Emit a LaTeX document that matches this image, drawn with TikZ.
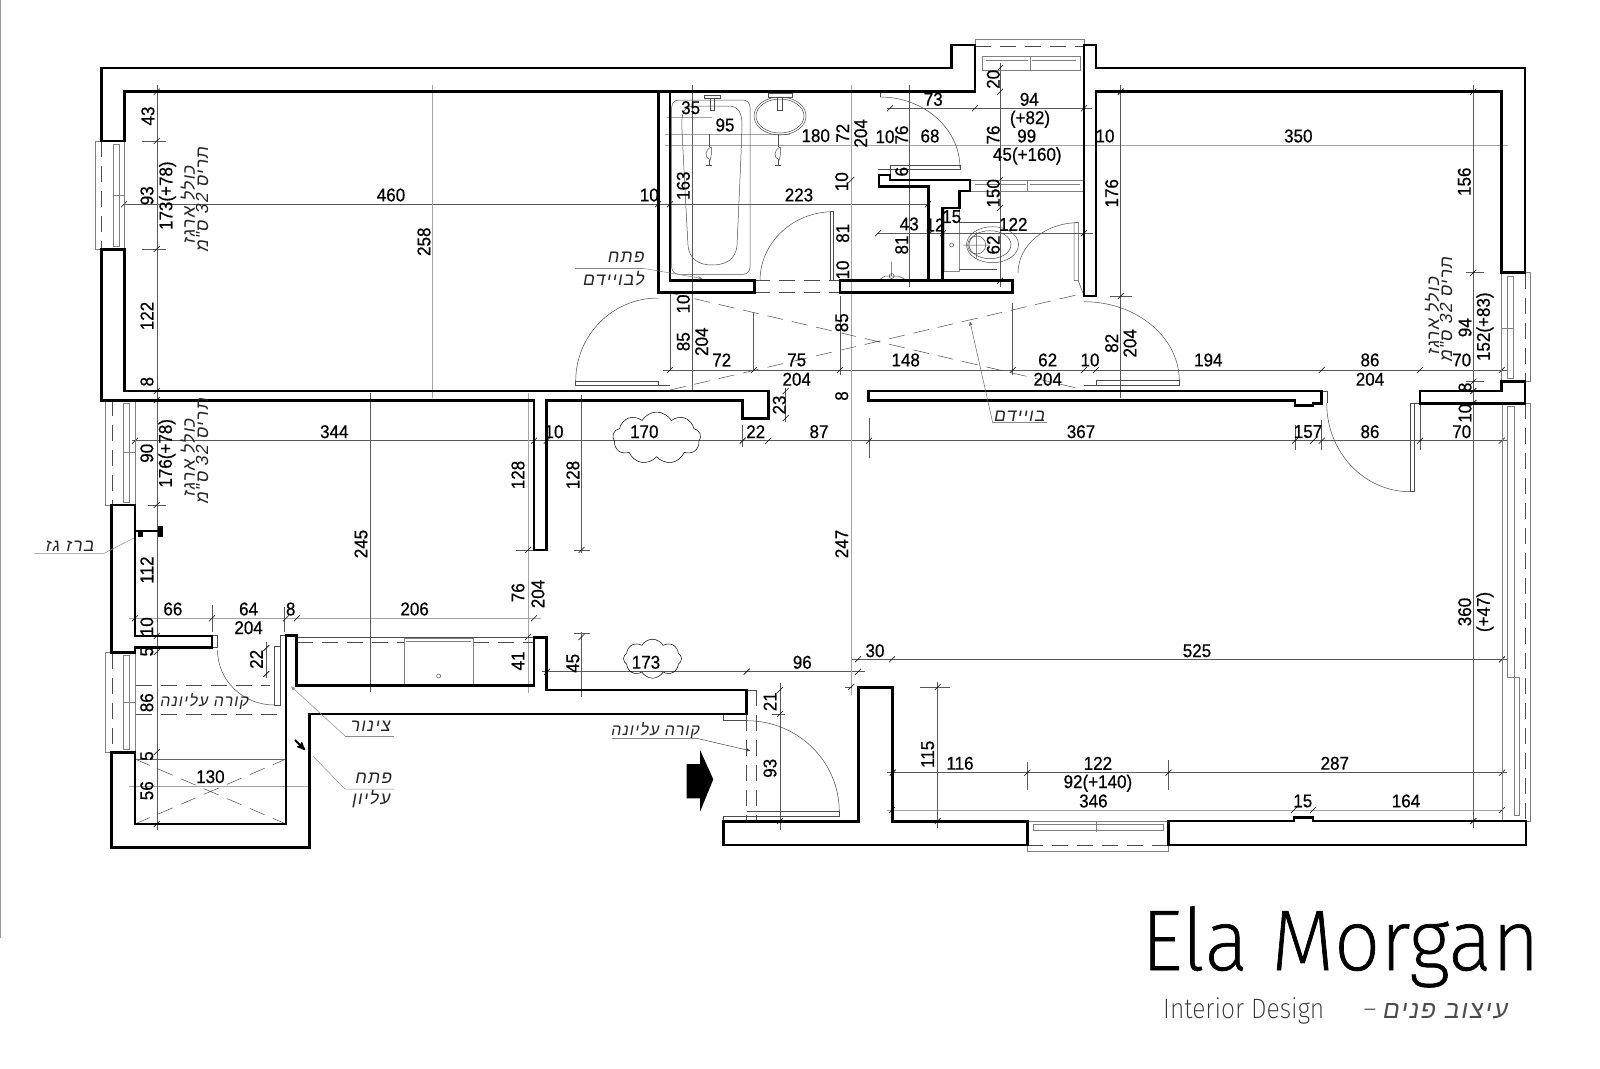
\documentclass[tikz,border=0pt]{standalone}
\usepackage{fontspec}
\usetikzlibrary{arrows,shapes.symbols}
\TeXXeTstate=1
\setmainfont{Liberation Sans}
\newfontfamily\dimfont[FakeStretch=0.92,FakeBold=0.5]{Liberation Sans}
\newfontfamily\hebfont[Script=Hebrew,FakeSlant=0.18,LetterSpace=7]{Liberation Sans}
\newfontfamily\logofont[FakeStretch=0.95,FakeBold=0.8]{Fira Sans ExtraLight}
\newfontfamily\tagfont[FakeStretch=0.88]{Fira Sans ExtraLight}
\newcommand{\heb}[1]{{\hebfont\beginR #1\endR}}
\newcommand{\doorarc}[4]{\draw[fine] (#1,#2) .. controls (#1,{#2+0.552*(#4-#2)}) and ({#3-0.552*(#3-#1)},#4) .. (#3,#4);}

\begin{document}
\begin{tikzpicture}[x=1pt,y=-1pt,>=stealth',
    wall/.style={draw=black,line width=2.9pt,line join=miter},
    fine/.style={draw=black!70,line width=.5pt},
    glass/.style={draw=black!50,line width=.6pt},
    hidden/.style={draw=black!70,line width=.5pt,dash pattern=on 16pt off 9pt},
    dimdark/.style={draw=black!65,line width=.5pt},
    dimpale/.style={draw=black!35,line width=.9pt},
    leader/.style={draw=black!45,line width=.5pt},
    dimh/.style={font=\dimfont\fontsize{18.5}{20}\selectfont,inner sep=0pt},
    dimv/.style={dimh,rotate=90},
    noteh/.style={font=\fontsize{17.5}{19}\selectfont,inner sep=0pt,text=black!85},
    notev/.style={noteh,rotate=90}
    ]
    \useasboundingbox (0,0) rectangle (1600,1068);
    \draw[draw=black!40,line width=1pt] (.5,0) -- (.5,938);

    % Dimension lines
    \foreach \ya/\xa/\xb in {204.3/123/928,233.3/877/1093,108.3/887/1092,440.7/132/1508,370/663/1507,659.3/852/1507,772.7/887/1507,671.7/542/865}
      \draw[dimdark] (\xa,\ya) -- (\xb,\ya);
    \foreach \ya/\xa/\xb in {145/665/1508,117.3/667/712,134/665/790,618.3/129/541,810/887/1502,786/129/309}
      \draw[dimpale] (\xa,\ya) -- (\xb,\ya);
    \foreach \xa/\ya/\yb in {156.8/85/830,370.5/393/692,581.5/395/553,581.5/632/697,909.3/85/287,692.7/85/391,1000/63/287,1120.7/85/398,1473.3/85/828,785.7/388/422,780/683/830,937.7/682/828,266.4/642/678,753.3/312/370,1012.7/303/375,840/296/375,670/293/370}
      \draw[dimdark] (\xa,\ya) -- (\xa,\yb);
    \foreach \xa/\ya/\yb in {432.9/85/398,528/393/693,851.3/85/695}
      \draw[dimpale] (\xa,\ya) -- (\xa,\yb);
    % Extension stubs
    \foreach \ya/\xa/\xb in {141/142/166,249/142/166,505/148/166,550/516/540,550/574/590,633/574/590,296/1110/1132,272.7/1466/1484,381.7/1466/1484,687.3/920/950,687.3/845/852,714/772/785}
      \draw[dimdark] (\xa,\ya) -- (\xb,\ya);
    \foreach \xa/\ya/\yb in {1295/425/450,1321.7/420/450,869/418/458,1420/405/450,742.7/425/447,1168.5/760/790,1027.3/762/790,212/605/632,284/607/632}
      \draw[dimdark] (\xa,\ya) -- (\xa,\yb);
    % Ticks
    \foreach \x/\y in {124/204.3,658/204.3,670/204.3,928/204.3,878/233.3,930/233.3,943/233.3,1084/233.3,890/108.3,975/108.3,1084/108.3,
      135/440.7,534/440.7,546.8/440.7,742.7/440.7,768.3/440.7,869/440.7,1295/440.7,1313/440.7,1321.7/440.7,1420/440.7,1501.7/440.7,
      670/370,754/370,840/370,1012.7/370,1084/370,1096/370,1321.7/370,1420/370,1501.7/370,
      858/659.3,892/659.3,1502/659.3,892.7/772.7,1027.3/772.7,1168.5/772.7,1502/772.7,892/810,1294/810,1313/810,1502/810,
      135/618.3,212/618.3,286/618.3,297/618.3,534/618.3,547/671.7,746.7/671.7,858/671.7,
      156.8/91.7,156.8/141,156.8/249,156.8/391,156.8/400,156.8/505,156.8/636,156.8/652,156.8/752,156.8/824,
      1000/68,1000/91.7,1000/180,1000/208,1000/280.7,1473.3/91.7,1473.3/272.7,1473.3/381.7,1473.3/391,1473.3/403,1473.3/821,
      581.5/550,581.5/637,528/550,528/637,780/690,780/714,780/821,937.7/687,937.7/821,785.7/391,785.7/418,
      1120.7/91.7,1120.7/296,851.3/180,851.3/687,266.4/648,266.4/674}
      \draw[draw=black,line width=.6pt] (\x-3,\y+3) -- (\x+3,\y-3);

    % Windows
    \foreach \ya/\yb/\xo/\xd/\xg in {141/249.3/95.4/101.4/113,400/505/105.7/112/123.6,652.7/752.7/105.7/112/123.6}{
      \draw[glass] (\xo,\ya) rectangle (\xg+11.5,\yb);
      \draw[hidden] (\xd,\ya) -- (\xd,\yb);
      \draw[glass] (\xg,\ya+3) rectangle (\xg+6,\yb-3);
      \draw[glass] (\xg,{(\ya+\yb)/2}) -- (\xg+11.5,{(\ya+\yb)/2});
    }
    \draw[glass] (1501.7,272.7) rectangle (1530.7,381.7);
    \draw[hidden] (1525,272.7) -- (1525,381.7);
    \draw[glass] (1507,276) rectangle (1513,378);
    \draw[glass] (1501.7,328) -- (1513,328);
    \draw[glass] (1502.5,403.3) rectangle (1530.7,821);
    \draw[hidden] (1525.5,403.3) -- (1525.5,821);
    \draw[glass] (1507.6,406) rectangle (1514,677);
    \draw[glass] (1514,677) rectangle (1519.7,815);
    \draw[glass] (1507.6,677) -- (1519.7,677);
    \draw[glass] (1027.3,821) rectangle (1168.5,851);
    \draw[hidden] (1027.3,845) -- (1168.5,845);
    \draw[glass] (1033,824) rectangle (1163,830);
    \draw[glass] (1096,821) -- (1096,832);
    \draw[glass] (975,39.3) -- (1084,39.3);
    \draw[hidden] (975,46) -- (1084,46);
    \draw[glass] (975,39.3) -- (975,46) (1084,39.3) -- (1084,46);
    \draw[glass] (982,56) rectangle (1080,70);
    \draw[glass] (986,60) -- (1028,60) (1032,60) -- (1076,60) (1030,56) -- (1030,70);
    \draw[glass] (970,180) rectangle (1084,191.7);
    \draw[glass] (975,184) -- (1026,184) (1030,184) -- (1080,184) (1027,180) -- (1027,191.7);

    % Doors
    \doorarc{575.7}{381}{658}{298}
    \doorarc{760}{280.7}{833.3}{211.7}
    \doorarc{1018}{273}{1078.3}{222.7}
    \doorarc{960}{168}{880}{97}
    \doorarc{1179.3}{381}{1084}{301.7}
    \doorarc{1326.7}{403.3}{1410}{491.7}
    \doorarc{217.5}{650}{274.3}{705}
    \doorarc{839.3}{811.7}{746.7}{720.7}
    \draw[fine] (575.7,381) -- (658,381) -- (658,385.7) -- (670,385.7) (575.7,381) -- (575.7,385.7) -- (658,385.7);
    \draw[fine] (830,211.7) rectangle (833.3,280.7);
    \draw[fine] (1074,222.7) rectangle (1078.3,280.7) (1078.3,280.7) -- (1084,296);
    \draw[fine] (880,97) -- (880,92) (890,165) rectangle (960,169.5) (878,169.5) -- (890,169.5) -- (890,175);
    \draw[fine] (1096,380.7) rectangle (1179.3,385.7) (1084,385.7) -- (1096,385.7);
    \draw[fine] (1410,403.3) rectangle (1414.3,491.7) (1414.3,403.3) -- (1420,403.3) (1321.7,391) -- (1327,391) -- (1327,403.3);
    \draw[fine] (274.3,646.7) rectangle (280,705) (212,635) rectangle (217.5,647.3) (280,635) -- (286,635) (280,635) -- (280,646.7);
    \draw[fine] (723.3,816.7) -- (839.3,816.7) -- (839.3,811.7) -- (746.7,811.7) (723.3,816.7) -- (723.3,821.7);
    \draw[fine] (723.3,714) -- (723.3,720.7) -- (746.7,720.7);
    \draw[fine] (746.7,690) -- (756.7,690);
    \draw[hidden] (746.7,690) -- (746.7,821) (756.7,690) -- (756.7,821);
    \draw[hidden] (754.3,280.7) -- (840,280.7) (754.3,292.7) -- (840,292.7);

    % Attic and beam dashes
    \draw[hidden] (670,293) -- (1085,390) (670,390) -- (1085,293);
    \draw[hidden] (136,685.7) -- (270,685.7) (136,714) -- (286,714);
    \draw[hidden] (135,759) -- (286,824) (135,824) -- (286,759);
    \draw[draw=black!60,line width=.8pt] (135,759) -- (286,759);
    \draw[hidden] (296.8,642.7) -- (404,642.7) (473,642.7) -- (533,642.7);

    % Kitchen counter
    \draw[fine] (296.8,637.7) -- (534,637.7);
    \draw[glass] (404,638) rectangle (473,684) (406,641) -- (471,641);
    \draw[fine] (438.6,676) circle (2);

    % Bath, sink, toilet
    \draw[fine,rounded corners=7pt] (671.7,100) rectangle (750,274.3);
    \draw[fine] (695,106) .. controls (683,106) and (681,114) .. (682,130) .. controls (684,170) and (686,210) .. (688,245)
       .. controls (689,260) and (700,265) .. (712,265) .. controls (725,265) and (736,260) .. (737,245)
       .. controls (739,200) and (741,160) .. (742,125) .. controls (742,112) and (738,106) .. (728,106) -- cycle;
    \draw[fine] (704,95) -- (720,95) -- (720,98) -- (704,98) -- cycle (710,98) rectangle (714,110);
    \draw[fine] (780,116) ellipse (26 and 19) (780,116) ellipse (24 and 17);
    \draw[fine] (768,93) rectangle (792,97) (777,97) rectangle (782,110);
    \foreach \xa in {709.3,778.3}{
      \draw[fine] (\xa+2,147) .. controls (\xa-5,150) and (\xa-5,158) .. (\xa+1,160) .. controls (\xa+2,155) and (\xa+3,150) .. (\xa+2,147);
      \draw[fine] (\xa,134) -- (\xa,147) (\xa,160) -- (\xa,165) (\xa-3,165) -- (\xa+3,165);
    }
    \draw[fine] (992.5,244.7) ellipse (26 and 18) (990,244.7) ellipse (21 and 14);
    \draw[fine] (976.7,245) circle (9) (963,245) -- (990,245) (976.7,232) -- (976.7,258);
    \draw[fine] (944,208) rectangle (959.3,271.7) (951.7,245) circle (2);
    \draw[fine] (959.3,222) -- (1000,222) (959.3,269) -- (997,269);
    \draw[fine] (880,279.3) -- (905,279.3) -- (898,276) -- (885,276) -- cycle (891.7,261.7) -- (891.7,276) (891.7,276) circle (2.5);

    % Gas tap
    \draw[line width=2.6pt] (136,531) -- (161,531);
    \fill (157.5,526) rectangle (163,537);
    \fill (138,530) rectangle (143,537);

    % Walls
    \draw[wall] (101.4,68) -- (951.7,68) -- (951.7,45) -- (975,45) -- (975,91.7) -- (124.6,91.7) -- (124.6,141) -- (101.4,141) -- cycle;
    \draw[wall] (670,91.7) -- (670,280.7) -- (754.3,280.7) -- (754.3,292.7) -- (658.3,292.7) -- (658.3,91.7);
    \draw[wall] (840,280.7) -- (928.6,280.7) -- (928.6,186.7) -- (879,186.7) -- (879,175) -- (890,175) -- (890,180) -- (970,180) -- (970,191) -- (959.3,191) -- (959.3,208) -- (942.7,208) -- (942.7,280.7) -- (1012.7,280.7) -- (1012.7,292.7) -- (840,292.7) -- cycle;
    \draw[wall] (928.6,280.7) -- (942.7,280.7);
    \draw[wall] (1096,68) -- (1525,68) -- (1525,272.7) -- (1501.7,272.7) -- (1501.7,91.7) -- (1096,91.7) -- (1096,296) -- (1084,296) -- (1084,45) -- (1096,45) -- cycle;
    \draw[wall] (101.4,249.3) -- (124.6,249.3) -- (124.6,391) -- (768.3,391) -- (768.3,418.3) -- (742.7,418.3) -- (742.7,400.7) -- (546.8,400.7) -- (546.8,550) -- (534,550) -- (534,400.7) -- (101.4,400.7) -- cycle;
    \draw[wall] (868.3,391) -- (1321.7,391) -- (1321.7,403.5) -- (1313,403.5) -- (1313,405.5) -- (1295,405.5) -- (1295,400.7) -- (868.3,400.7) -- cycle;
    \draw[wall] (1420,391) -- (1501.7,391) -- (1501.7,381.7) -- (1525,381.7) -- (1525,403.3) -- (1420,403.3) -- cycle;
    \draw[wall] (111.8,505) -- (135,505) -- (135,636) -- (212,636) -- (212,647.3) -- (135,647.3) -- (135,652.7) -- (111.8,652.7) -- cycle;
    \draw[wall] (534,637.3) -- (546.8,637.3) -- (546.8,690) -- (746.7,690) -- (746.7,714) -- (309.3,714) -- (309.3,847.3) -- (111.8,847.3) -- (111.8,752.7) -- (135,752.7) -- (135,824) -- (286,824) -- (286,635.3) -- (296.8,635.3) -- (296.8,685.7) -- (534,685.7) -- cycle;
    \draw[wall] (723.3,821.7) -- (858.3,821.7) -- (858.3,687.3) -- (892.7,687.3) -- (892.7,821.7) -- (1027.3,821.7) -- (1027.3,845) -- (723.3,845) -- cycle;
    \draw[wall] (1168.5,821) -- (1294,821) -- (1294,817.5) -- (1313,817.5) -- (1313,821) -- (1526,821) -- (1526,845) -- (1168.5,845) -- cycle;

    % Entry arrow
    \fill (686.7,764) -- (700,764) -- (700,750) -- (713.3,779.3) -- (700,811.7) -- (700,798.3) -- (686.7,798.3) -- cycle;

    % Clouds
    \node[cloud,draw,fine,draw=black,cloud puffs=9,cloud puff arc=120,aspect=1.7,minimum width=88pt,minimum height=52pt,inner sep=0pt] (cloud170) at (656.7,438) {};
    \node[cloud,draw,fine,draw=black,cloud puffs=8,cloud puff arc=120,aspect=1.5,minimum width=58pt,minimum height=39pt,inner sep=0pt] (cloud173) at (652.5,658.7) {};

    % Horizontal dimensions
    \foreach \x/\y/\lab in {391/195/460,690.7/107.7/35,725/125/95,815.7/135.7/180,885/136.7/10,930/136/68,933.3/99.3/73,
      1029.3/99.3/94,1030/119.3/(+82),1026.7/136/99,1027.3/156/45(+160),799/195/223,649.3/195/10,909.3/224/43,935/225/12,951.7/216.7/15,1013.3/224.3/122,
      721.7/360/72,796.7/360/75,796.7/379.3/204,905.7/360/148,1047.7/360/62,1047.7/379.3/204,1090/360/10,
      1105/136/10,1298.3/136/350,1208.3/360/194,1370/360/86,1370/379.3/204,1461.7/360/70,1308/431.7/157,1370/431.7/86,1461.7/431.7/70,1081/431.7/367,
      334.3/431.7/344,554/431.7/10,172.9/609/66,248.6/609/64,248.6/627.7/204,290.7/609/8,414.6/609/206,210.4/776.7/130,
      644.3/431.7/170,755.7/431.7/22,819/431.7/87,646/662.3/173,802.3/662.3/96,875/650.7/30,960/763.3/116,
      1097.9/783.3/92(+140),1097.9/763.3/122,1093.4/801/346,1334.8/763.3/287,1302.8/801/15,1406/801/164,1197/650.7/525}
      \node[dimh] at (\x,\y) {\lab};

    % Vertical dimensions
    \foreach \x/\y/\lab in {147.9/116/43,147/195.7/93,167.5/195.7/173(+78),147/316/122,147/381.7/8,424/241.7/258,
      683.3/185.7/163,842.7/133.3/72,860.7/133.3/204,901.7/135/76,841.7/181.7/10,901.7/171.7/6,842.7/233.3/81,901.7/245/81,842.7/270/10,
      993.3/135/76,993.3/79.3/20,993.3/193.3/150,993.3/245/62,683.3/304/10,683.3/341.7/85,701.7/341.7/204,841.7/322.7/85,841.7/396/8,779.3/405/23,
      1111.7/193.3/176,1111.7/343.3/82,1130/343.3/204,1464.3/181.7/156,1465/327.7/94,1485/326.7/152(+83),1465/387.3/8,1465/413.3/10,1464.7/612/360,1485/612/(+47),
      146.8/453.3/90,167/453.3/176(+78),146.8/570/112,146.8/626.7/10,146.8/651.7/5,146.8/702.7/86,146.8/756/5,146.8/790.7/56,361/544/245,
      518/475/128,572.9/475/128,518/592.7/76,537.9/594/204,518/661/41,572.9/663.3/45,256.4/659.3/22,841.7/544/247,770/701.7/21,770/768.3/93,927.7/754.3/115}
      \node[dimv] at (\x,\y) {\lab};

    % Notes
    \foreach \x/\y in {187.9/205,187.9/458,1432.3/316.7}
      \node[notev] at (\x,\y) {\heb{כולל ארגז}};
    \foreach \x/\y in {202/200,202/451.7,1446/310}
      \node[notev] at (\x,\y) {\heb{תריס \beginL 32\endL{} ס"מ}};
    \node[noteh,anchor=east] (attic_a) at (644,257) {\heb{פתח}};
    \node[noteh,anchor=east] (attic_b) at (644,279) {\heb{לבויידם}};
    \node[noteh] (attic_c) at (1019,416.7) {\heb{בויידם}};
    \node[noteh] (gas) at (69.3,546) {\heb{ברז גז}};
    \node[noteh,font=\fontsize{16}{18}\selectfont] (beam_a) at (204,701) {\heb{קורה עליונה}};
    \node[noteh,font=\fontsize{16}{18}\selectfont] (beam_b) at (655,730) {\heb{קורה עליונה}};
    \node[noteh] (pipe) at (370,726) {\heb{צינור}};
    \node[noteh] (hatch_a) at (372.9,778.3) {\heb{פתח}};
    \node[noteh] (hatch_b) at (370.7,799.3) {\heb{עליון}};

    % Leaders
    \draw[leader] (574.6,268.3) -- (643,268.3);
    \draw[leader,->] (643,268.3) -- (702,278.5);
    \draw[leader] (992.7,422.7) -- (1046.7,422.7);
    \draw[leader,draw=black!60,->] (992.7,422.7) -- (970,321.7);
    \draw[leader] (34,553.3) -- (104,553.3) -- (134,538);
    \draw[leader,->] (345,736) -- (291.4,686.7) ;
    \draw[leader] (345,736) -- (394,736);
    \draw[leader] (394,789) -- (345,789) -- (312.9,756);
    \draw[line width=1.8pt,->] (295,740) -- (305,750);
    \draw[leader] (611.7,738.3) -- (696.7,738.3);
    \draw[leader,draw=black!70,->] (696.7,738.3) -- (750,750.7);

    % Logo
    \node[font=\logofont\fontsize{86}{90}\selectfont,inner sep=0pt,anchor=base west] (logo) at (1141,970) {Ela Morgan};
    \node[font=\tagfont\fontsize{28}{30}\selectfont,inner sep=0pt,anchor=base west,text=black!80] (tagline) at (1163,1018) {Interior Design};
    \node[font=\tagfont\fontsize{28}{30}\selectfont,inner sep=0pt,text=black!75] (tagdash) at (1370,1014) {–};
    \node[font=\hebfont\fontsize{25}{30}\selectfont,inner sep=0pt,anchor=base east,text=black!70] (tagheb) at (1507,1018) {\beginR עיצוב פנים\endR};
\end{tikzpicture}
\end{document}
